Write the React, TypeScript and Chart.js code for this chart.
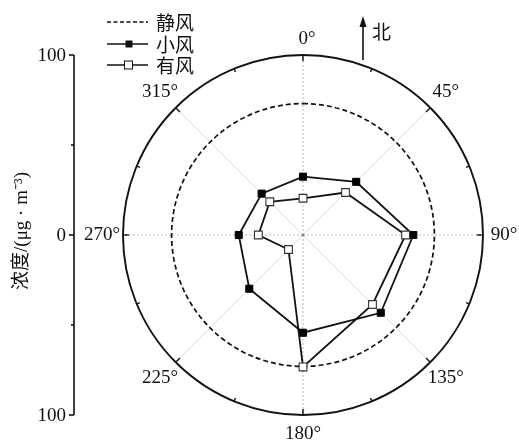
import React, { useEffect, useRef } from "react";
import { Chart, registerables } from "chart.js";

Chart.register(...registerables);

// ---- data ----
const directions = ["0°", "45°", "90°", "135°", "180°", "225°", "270°", "315°"];
const calmWind = [73, 73, 73, 73, 73, 73, 73, 73]; // 静风 (constant circle)
const lightWind = [32.4, 41.8, 61.3, 61.1, 54.3, 42.2, 35.7, 32.5]; // 小风
const windy = [20.4, 33.4, 57.0, 54.6, 73.3, 11.4, 24.8, 26.1]; // 有风
const seriesNames = ["静风", "小风", "有风"];
const leftAxisValues = [100, 50, 0, 50, 100];
const leftAxisLabels = ["100", "", "0", "", "100"];
const yTitle = "浓度/(μg · m⁻³)";
const northLabel = "北";

const SERIF = '"Liberation Serif", "Noto Sans CJK SC", serif';
const CJK = '"Noto Sans CJK SC", "Liberation Serif", sans-serif';

const decorPlugin = {
  id: "decor",
  afterDraw(chart: any) {
    const ctx = chart.ctx as CanvasRenderingContext2D;
    const r = chart.scales.r;
    const cx = r.xCenter;
    const cy = r.yCenter;
    const R = r.getDistanceFromCenterForValue(100);
    ctx.save();
    ctx.strokeStyle = "#111";
    ctx.fillStyle = "#111";

    // outer circle ticks
    const n = directions.length;
    for (let i = 0; i < n; i++) {
      const a = r.getIndexAngle(i) - Math.PI / 2;
      const am = a + Math.PI / n;
      ctx.lineWidth = 1.4;
      ctx.beginPath();
      ctx.moveTo(cx + Math.cos(a) * R, cy + Math.sin(a) * R);
      ctx.lineTo(cx + Math.cos(a) * (R - 6), cy + Math.sin(a) * (R - 6));
      ctx.stroke();
      ctx.beginPath();
      ctx.moveTo(cx + Math.cos(am) * R, cy + Math.sin(am) * R);
      ctx.lineTo(cx + Math.cos(am) * (R - 3.5), cy + Math.sin(am) * (R - 3.5));
      ctx.stroke();
    }

    // angle labels
    ctx.font = `19px ${SERIF}`;
    ctx.textAlign = "center";
    ctx.textBaseline = "middle";
    for (let i = 0; i < n; i++) {
      const d = i === 0 ? R + 16 : i % 2 === 0 ? R + 21 : R + 22;
      const p = r.getPointPosition(i, d);
      ctx.fillText(directions[i], p.x + (i === 0 ? 4 : 0), p.y - (i === 4 ? 2 : 0));
    }

    // center dot
    ctx.fillStyle = "#888";
    ctx.beginPath();
    ctx.arc(cx, cy, 1.5, 0, Math.PI * 2);
    ctx.fill();
    ctx.fillStyle = "#111";

    // left axis
    const ax = 74;
    const top = cy - r.getDistanceFromCenterForValue(leftAxisValues[0]);
    const bottom = cy + r.getDistanceFromCenterForValue(leftAxisValues[4]);
    ctx.lineWidth = 1.6;
    ctx.beginPath();
    ctx.moveTo(ax, top);
    ctx.lineTo(ax, bottom);
    ctx.stroke();
    ctx.textAlign = "right";
    for (let k = 0; k < leftAxisValues.length; k++) {
      const sign = k < 2 ? -1 : 1;
      const y = cy + sign * r.getDistanceFromCenterForValue(leftAxisValues[k]);
      const major = leftAxisLabels[k] !== "";
      ctx.beginPath();
      ctx.moveTo(ax, y);
      ctx.lineTo(ax - (major ? 5 : 3), y);
      ctx.stroke();
      if (major) ctx.fillText(leftAxisLabels[k], ax - 8, y + 1);
    }

    // y title
    ctx.save();
    ctx.translate(22, 231);
    ctx.rotate(-Math.PI / 2);
    ctx.textAlign = "center";
    ctx.font = `19px ${SERIF}`;
    ctx.fillText(yTitle, 0, 0);
    ctx.restore();

    // legend
    const lx0 = 107, lx1 = 148, tx = 156;
    const rows = [22, 44, 65];
    ctx.lineWidth = 1.7;
    // 静风
    ctx.setLineDash([4, 2.5]);
    ctx.beginPath();
    ctx.moveTo(lx0, rows[0]);
    ctx.lineTo(lx1, rows[0]);
    ctx.stroke();
    ctx.setLineDash([]);
    // 小风
    ctx.beginPath();
    ctx.moveTo(lx0, rows[1]);
    ctx.lineTo(lx1, rows[1]);
    ctx.stroke();
    ctx.fillRect(125.5, rows[1] - 3.5, 7, 7);
    // 有风
    ctx.beginPath();
    ctx.moveTo(lx0, rows[2]);
    ctx.lineTo(lx1, rows[2]);
    ctx.stroke();
    ctx.fillStyle = "#fff";
    ctx.fillRect(124.5, rows[2] - 4, 8, 8);
    ctx.lineWidth = 1;
    ctx.strokeRect(124.5, rows[2] - 4, 8, 8);
    ctx.fillStyle = "#111";
    ctx.font = `19px ${CJK}`;
    ctx.textAlign = "left";
    for (let k = 0; k < 3; k++) ctx.fillText(seriesNames[k], tx, rows[k] + 1);

    // north arrow
    ctx.lineWidth = 1.6;
    ctx.beginPath();
    ctx.moveTo(363, 60);
    ctx.lineTo(363, 24);
    ctx.stroke();
    ctx.beginPath();
    ctx.moveTo(363, 16);
    ctx.lineTo(359.5, 27);
    ctx.lineTo(366.5, 27);
    ctx.closePath();
    ctx.fill();
    ctx.font = `19px ${CJK}`;
    ctx.fillText(northLabel, 372, 32);

    ctx.restore();
  },
};

export default function App() {
  const ref = useRef<HTMLCanvasElement>(null);
  useEffect(() => {
    if (!ref.current) return;
    const chart = new Chart(ref.current, {
      type: "radar",
      data: {
        labels: directions,
        datasets: [
          {
            label: seriesNames[1],
            data: lightWind,
            borderColor: "#111",
            borderWidth: 1.8,
            fill: false,
            backgroundColor: "rgba(0,0,0,0)",
            pointStyle: "rect",
            pointRadius: 5,
            pointBackgroundColor: "#000",
            pointBorderColor: "#000",
            pointBorderWidth: 1,
            order: 1,
          },
          {
            label: seriesNames[2],
            data: windy,
            borderColor: "#111",
            borderWidth: 1.8,
            fill: false,
            backgroundColor: "rgba(0,0,0,0)",
            pointStyle: "rect",
            pointRadius: 5.5,
            pointBackgroundColor: "#fff",
            pointBorderColor: "#333",
            pointBorderWidth: 1.1,
            order: 0,
          },
          {
            label: seriesNames[0],
            data: calmWind,
            borderColor: "#111",
            borderWidth: 1.7,
            borderDash: [5, 3],
            tension: 0.375,
            fill: false,
            backgroundColor: "rgba(0,0,0,0)",
            pointRadius: 0,
            order: 2,
          },
        ],
      },
      options: {
        responsive: false,
        animation: false,
        layout: { padding: { left: 123, top: 55, right: 36, bottom: 25 } },
        plugins: { legend: { display: false }, tooltip: { enabled: false } },
        scales: {
          r: {
            min: 0,
            max: 100,
            ticks: { display: false, stepSize: 50 },
            pointLabels: { display: false },
            grid: {
              circular: true,
              color: (c: any) => (c.tick && c.tick.value === 100 ? "#111" : "rgba(0,0,0,0)"),
              lineWidth: 1.9,
            },
            angleLines: {
              color: (c: any) => (c.index % 2 === 0 ? "#b8b8b8" : "#dcdcdc"),
              borderDash: (c: any) => (c.index % 2 === 0 ? [2, 2] : []),
              lineWidth: 1,
            },
          },
        },
      },
      plugins: [decorPlugin],
    });
    return () => chart.destroy();
  }, []);
  return (
    <div style={{ position: "absolute", left: 0, top: 0, width: 519, height: 440, background: "#fff" }}>
      <canvas ref={ref} width={519} height={440} style={{ width: 519, height: 440 }} />
    </div>
  );
}
